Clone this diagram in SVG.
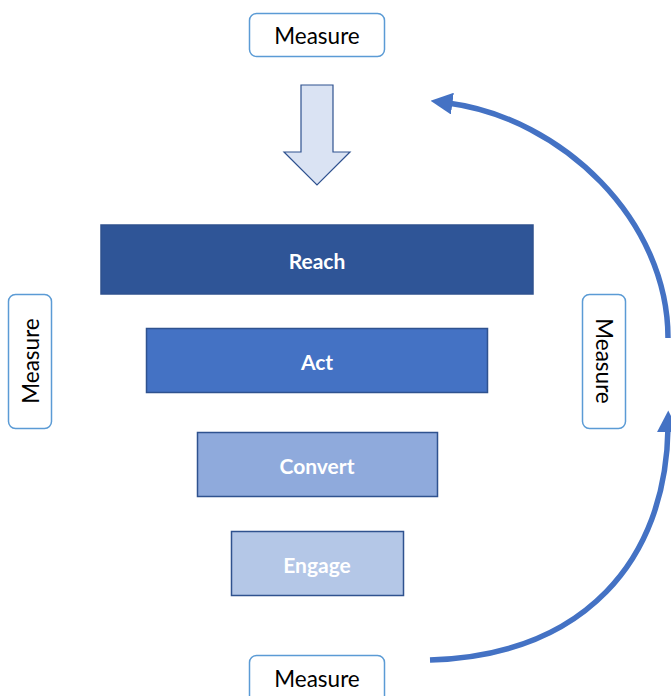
<svg xmlns="http://www.w3.org/2000/svg" width="671" height="696" viewBox="0 0 671 696">
  <style>
    .stage { stroke: #2f528f; stroke-width: 1.5; }
    .stage-label { font-family: Lato, "Open Sans", sans-serif; font-weight: bold; font-size: 21px; fill: #ffffff; text-anchor: middle; dominant-baseline: central; }
    .measure { fill: #ffffff; stroke: #5b9bd5; stroke-width: 1.5; }
    .measure-label { font-family: Lato, "Open Sans", sans-serif; font-size: 22.5px; fill: #000000; text-anchor: middle; dominant-baseline: central; }
    .loop { fill: none; stroke: #4472c4; stroke-width: 5.5; }
  </style>
  <defs>
    <marker id="head" viewBox="0 0 10 10" refX="2" refY="5" markerWidth="4" markerHeight="4" orient="auto" markerUnits="strokeWidth">
      <path d="M0,0 L10,5 L0,10 Z" fill="#4472c4"/>
    </marker>
  </defs>

  <rect width="671" height="696" fill="#ffffff"/>

  <g id="measure-top">
    <rect class="measure" x="249.5" y="13.5" width="135" height="43" rx="7"/>
    <text class="measure-label" x="317" y="35">Measure</text>
  </g>

  <g id="down-arrow">
    <path d="M301,85 L333,85 L333,152 L350,152 L317,185 L284,152 L301,152 Z" fill="#dae3f3" stroke="#2f528f" stroke-width="1.2"/>
  </g>

  <g id="reach">
    <rect class="stage" x="101" y="225" width="432" height="69" fill="#2f5597"/>
    <text class="stage-label" x="317" y="260">Reach</text>
  </g>
  <g id="act">
    <rect class="stage" x="146.5" y="328.5" width="341" height="64" fill="#4472c4"/>
    <text class="stage-label" x="317" y="361">Act</text>
  </g>
  <g id="convert">
    <rect class="stage" x="197.5" y="432.5" width="240" height="64" fill="#8faadc"/>
    <text class="stage-label" x="317" y="465">Convert</text>
  </g>
  <g id="engage">
    <rect class="stage" x="231.5" y="531.5" width="172" height="64" fill="#b4c7e7"/>
    <text class="stage-label" x="317" y="564">Engage</text>
  </g>

  <g id="measure-left">
    <rect class="measure" x="8.5" y="294.5" width="43" height="134" rx="7"/>
    <text class="measure-label" transform="translate(30,361) rotate(-90)" x="0" y="0">Measure</text>
  </g>
  <g id="measure-right">
    <rect class="measure" x="582.5" y="294.5" width="43" height="134" rx="7"/>
    <text class="measure-label" transform="translate(604,361) rotate(90)" x="0" y="0">Measure</text>
  </g>
  <g id="measure-bottom">
    <rect class="measure" x="249.5" y="655.5" width="135" height="50" rx="7"/>
    <text class="measure-label" x="317" y="678">Measure</text>
  </g>

  <g id="connectors">
    <path class="loop" d="M668,338 C668,220 562,118 448,103" marker-end="url(#head)"/>
    <path class="loop" d="M430,660 C585,655 666,560 668,428" marker-end="url(#head)"/>
  </g>
</svg>
